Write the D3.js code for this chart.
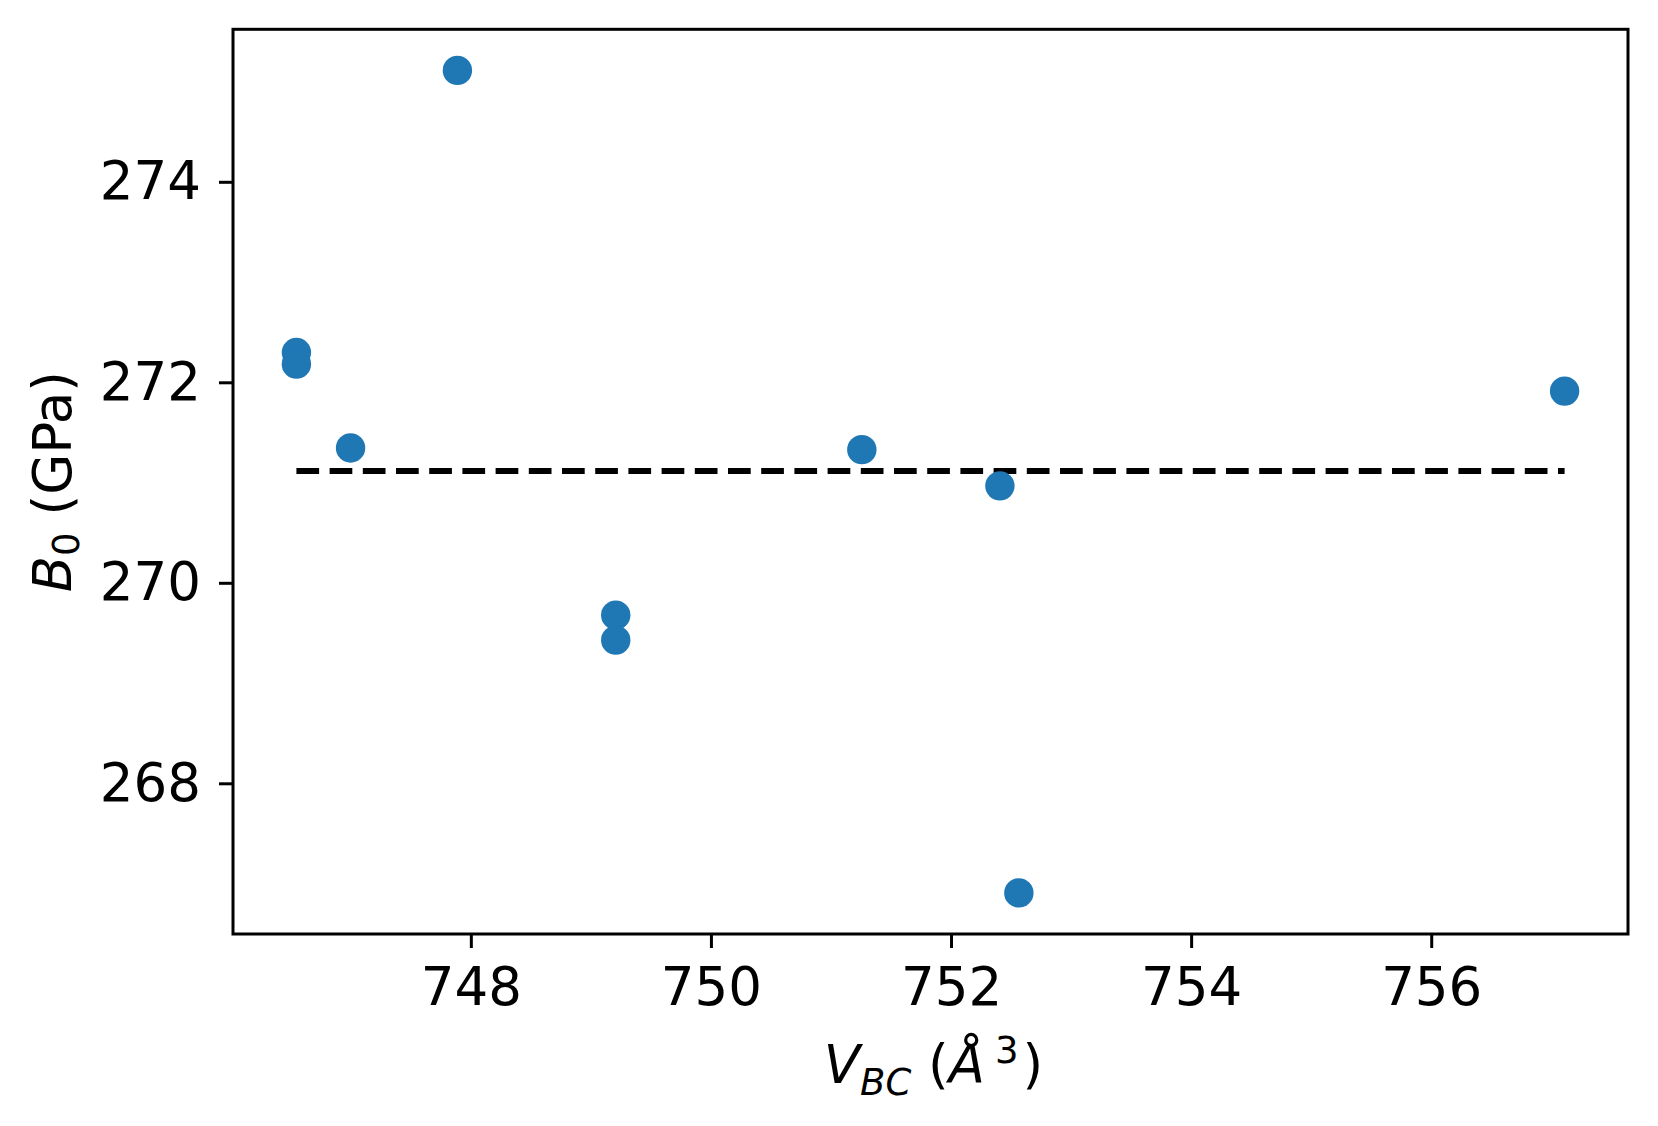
<!DOCTYPE html>
<html lang="en">
<head>
    <meta charset="utf-8">
    <style>
     body { margin: 0; background-color: white; }
     svg { background-color: white; font-family: "DejaVu Sans", sans-serif; }
     .axis text { font-size: 53px; fill: black; font-family: "DejaVu Sans", sans-serif; }
     .axis line { stroke: black; stroke-width: 3; }
     .axis path { display: none; }
    </style>
    <title></title>
</head>
<body>
    <script src="https://d3js.org/d3.v7.min.js"></script>
    <script>

        // values
        var volumes = [746.547, 746.547, 746.998, 747.888, 749.207, 749.207, 751.257, 752.407, 752.565, 757.111];
        var bulkModuli = [272.297, 272.181, 271.345, 275.111, 269.677, 269.428, 271.328, 270.967, 266.907, 271.912];
        var meanB0 = 271.115;
        var xTicks = [748, 750, 752, 754, 756];
        var yTicks = [268, 270, 272, 274];

        var W = 1658, H = 1126;
        var plotLeft = 233, plotRight = 1628, plotTop = 29.3, plotBottom = 934;

        var svg = d3.select("body").append("svg")
            .attr("width", W)
            .attr("height", H);

        // 5% padding like matplotlib
        function padded(ext) {
            var d = (ext[1] - ext[0]) * 0.05;
            return [ext[0] - d, ext[1] + d];
        }

        var x = d3.scaleLinear().domain(padded(d3.extent(volumes))).range([plotLeft, plotRight]);
        var y = d3.scaleLinear().domain(padded(d3.extent(bulkModuli))).range([plotBottom, plotTop]);

        var points = volumes.map(function(v, i) { return {v: v, b: bulkModuli[i]}; });

        // mean line
        svg.append("line")
            .attr("x1", x(d3.min(volumes)))
            .attr("x2", x(d3.max(volumes)))
            .attr("y1", y(meanB0))
            .attr("y2", y(meanB0))
            .attr("stroke", "black")
            .attr("stroke-width", 6)
            .attr("stroke-dasharray", "22.7,10.5");

        svg.selectAll("circle.pt")
            .data(points)
            .enter().append("circle")
            .attr("class", "pt")
            .attr("cx", function(d) { return x(d.v); })
            .attr("cy", function(d) { return y(d.b); })
            .attr("r", 14.7)
            .attr("fill", "#1f77b4");

        // axes
        svg.append("g")
            .attr("class", "axis")
            .attr("transform", "translate(0," + plotBottom + ")")
            .call(d3.axisBottom(x).tickValues(xTicks).tickSize(14).tickPadding(19).tickFormat(d3.format("d")));

        svg.append("g")
            .attr("class", "axis")
            .attr("transform", "translate(" + plotLeft + ",0)")
            .call(d3.axisLeft(y).tickValues(yTicks).tickSize(14).tickPadding(18).tickFormat(d3.format("d")));

        // frame
        svg.append("rect")
            .attr("x", plotLeft)
            .attr("y", plotTop)
            .attr("width", plotRight - plotLeft)
            .attr("height", plotBottom - plotTop)
            .attr("fill", "none")
            .attr("stroke", "black")
            .attr("stroke-width", 3);

        // x label: V_BC (Å^3)
        var xl = svg.append("text")
            .attr("x", (plotLeft + plotRight) / 2 + 3)
            .attr("y", 1083)
            .attr("text-anchor", "middle")
            .attr("font-size", 53)
            .attr("fill", "black");
        xl.append("tspan").attr("font-style", "italic").text("V");
        xl.append("tspan").attr("font-style", "italic").attr("font-size", 37).attr("dy", 12).text("BC");
        xl.append("tspan").attr("dy", -12).text(" (");
        xl.append("tspan").attr("font-style", "italic").text("Å");
        xl.append("tspan").attr("font-size", 37).attr("dy", -20).attr("dx", 10).text("3");
        xl.append("tspan").attr("dy", 20).attr("dx", 4).text(")");

        // y label: B_0 (GPa)
        var yl = svg.append("text")
            .attr("transform", "translate(71," + ((plotTop + plotBottom) / 2) + ") rotate(-90)")
            .attr("text-anchor", "middle")
            .attr("font-size", 53)
            .attr("fill", "black");
        yl.append("tspan").attr("font-style", "italic").text("B");
        yl.append("tspan").attr("font-size", 37).attr("dy", 8).text("0");
        yl.append("tspan").attr("dy", -8).text(" (GPa)");

    </script>
</body>
</html>
